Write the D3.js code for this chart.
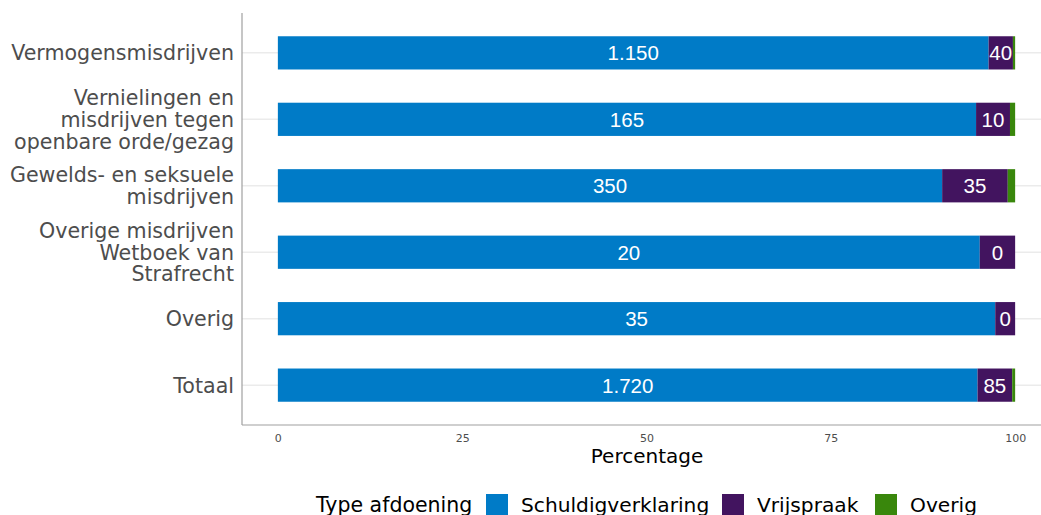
<!DOCTYPE html>
<html><head><meta charset="utf-8">
<script src="https://cdn.jsdelivr.net/npm/d3@7"></script>
<style>body{margin:0;background:#fff}svg{display:block}</style>
</head><body>
<svg id="c" width="1041" height="515"></svg>
<script>
const categories = ["Vermogensmisdrijven","Vernielingen en\nmisdrijven tegen\nopenbare orde/gezag","Gewelds- en seksuele\nmisdrijven","Overige misdrijven\nWetboek van\nStrafrecht","Overig","Totaal"];
const seriesNames = ["Schuldigverklaring","Vrijspraak","Overig"];
const seriesColors = ["#007bc7","#42145f","#39870c"];
const pctSchuld = [96.4, 94.7, 90.1, 95.2, 97.3, 94.9];
const pctVrij = [3.3, 4.6, 8.9, 4.8, 2.7, 4.7];
const pctOverig = [0.3, 0.7, 1.0, 0, 0, 0.4];
const lblSchuld = ["1.150","165","350","20","35","1.720"];
const lblVrij = ["40","10","35","0","0","85"];
const xTicks = [0,25,50,75,100];

const svg = d3.select("#c");
const panel = {l:242, t:13, b:425, r:1052};
const x = d3.scaleLinear().domain([-5,105]).range([panel.l-1, panel.r]);
const y = d3.scaleBand().domain(categories).range([panel.t, panel.b]).paddingInner(0.5).paddingOuter(0.35);
const rows = categories.map((c,i)=>({cat:c, Schuldigverklaring:pctSchuld[i], Vrijspraak:pctVrij[i], Overig:pctOverig[i], lbl:[lblSchuld[i], lblVrij[i], ""]}));
const stack = d3.stack().keys(seriesNames)(rows);

// gridlines
svg.append("g").selectAll("line").data(categories).join("line")
  .attr("x1", panel.l).attr("x2", 1041)
  .attr("y1", d=>y(d)+y.bandwidth()/2).attr("y2", d=>y(d)+y.bandwidth()/2)
  .attr("stroke","#ebebeb").attr("stroke-width",1.5);

// bars
stack.forEach((s,si)=>{
  const g = svg.append("g");
  g.selectAll("rect").data(s).join("rect")
    .attr("x", d=>x(d[0])).attr("width", d=>Math.max(0,x(d[1])-x(d[0])))
    .attr("y", d=>y(d.data.cat)).attr("height", y.bandwidth())
    .attr("fill", seriesColors[si]);
  g.selectAll("text").data(s).join("text")
    .attr("x", d=>(x(d[0])+x(d[1]))/2).attr("y", d=>y(d.data.cat)+y.bandwidth()/2)
    .attr("dy","0.36em").attr("text-anchor","middle")
    .attr("font-family","Liberation Sans, Arial, sans-serif").attr("font-size",20.5)
    .attr("fill","#fff").text(d=>d.data.lbl[si]);
});

// axes lines
svg.append("line").attr("x1",panel.l).attr("x2",panel.l).attr("y1",panel.t).attr("y2",panel.b).attr("stroke","#a0a0a0").attr("stroke-width",1.2);
svg.append("line").attr("x1",panel.l).attr("x2",1041).attr("y1",panel.b).attr("y2",panel.b).attr("stroke","#a0a0a0").attr("stroke-width",1.2);

// x axis
const xa = svg.append("g").attr("transform",`translate(0,${panel.b})`).call(d3.axisBottom(x).tickValues(xTicks).tickSize(0).tickPadding(9));
xa.select(".domain").remove();
xa.selectAll("text").attr("font-family","DejaVu Sans, sans-serif").attr("font-size",11).attr("fill","#4d4d4d");
svg.append("text").attr("x",647).attr("y",463).attr("text-anchor","middle")
  .attr("font-family","DejaVu Sans, sans-serif").attr("font-size",20).attr("fill","#000").text("Percentage");

// y axis labels
const ya = svg.append("g");
categories.forEach(c=>{
  const lines = c.split("\n");
  const cy = y(c)+y.bandwidth()/2;
  const lh = 21.8;
  const t = ya.append("text").attr("text-anchor","end")
    .attr("font-family","DejaVu Sans, sans-serif").attr("font-size",20.6).attr("fill","#4d4d4d");
  lines.forEach((ln,i)=>{
    t.append("tspan").attr("x",234).attr("y", cy + (i-(lines.length-1)/2)*lh).attr("dy","0.36em").text(ln);
  });
});

// legend
const lg = svg.append("g");
lg.append("text").attr("x",316).attr("y",505).attr("dy","0.36em")
  .attr("font-family","DejaVu Sans, sans-serif").attr("font-size",20.5).attr("fill","#000").text("Type afdoening");
const legX = [486, 722, 875];
seriesNames.forEach((n,i)=>{
  lg.append("rect").attr("x",legX[i]).attr("y",494).attr("width",22).attr("height",22).attr("fill",seriesColors[i]);
  lg.append("text").attr("x",legX[i]+35).attr("y",505).attr("dy","0.36em")
    .attr("font-family","DejaVu Sans, sans-serif").attr("font-size",20.2).attr("fill","#000").text(n);
});
</script>
</body></html>
